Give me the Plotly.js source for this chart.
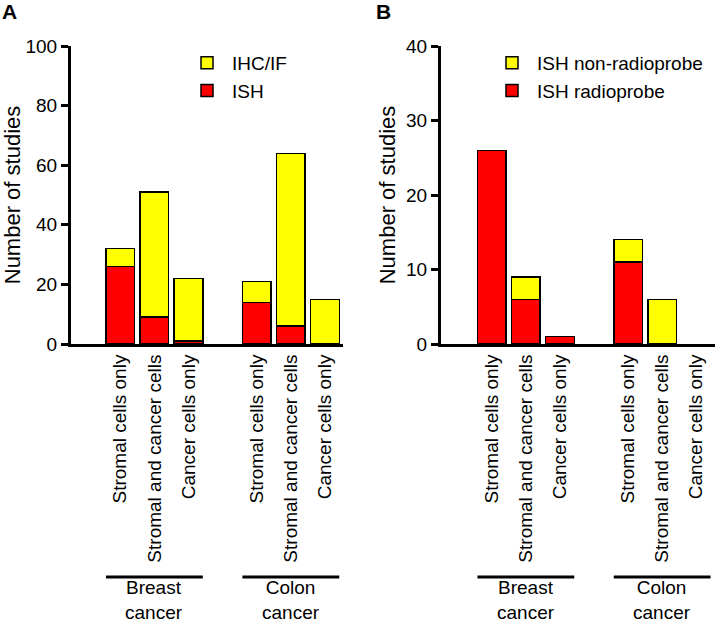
<!DOCTYPE html>
<html>
<head>
<meta charset="utf-8">
<script src="https://cdn.plot.ly/plotly-3.0.1.min.js"></script>
<style>html,body{margin:0;padding:0;background:#fff;}#chart{width:717px;height:622px;}</style>
</head>
<body>
<div id="chart"></div>
<script>
// Category labels
const categories = ["Stromal cells only", "Stromal and cancer cells", "Cancer cells only"];
const groups = ["Breast<br>cancer", "Colon<br>cancer"];
// x positions of the six bars (two groups of three, one empty slot between)
const xpos = [0, 1, 2, 4, 5, 6];
const tickLabels = categories.concat(categories);

// Panel A: number of studies by method
const ishA = [26, 9, 1, 14, 6, 0];
const ihcA = [6, 42, 21, 7, 58, 15];

// Panel B: ISH studies by probe type
const radioB = [26, 6, 1, 11, 0, 0];
const nonRadioB = [0, 3, 0, 3, 6, 0];

const RED = "#ff0000", YELLOW = "#ffff00";
const FONT = "Liberation Sans, Arial, Helvetica, sans-serif";

function bar(x, y, name, color, xa, ya, legend) {
  return {
    type: "bar", x: x,
    // empty (zero) segments are not drawn, so no outline shows on the axis
    y: y.map(function (v) { return v === 0 ? null : v; }),
    name: name, xaxis: xa, yaxis: ya, legend: legend,
    width: 0.84,
    marker: {color: color, line: {color: "#000", width: 1.5}},
    hoverinfo: "x+y+name"
  };
}

const data = [
  bar(xpos, ishA, "ISH", RED, "x", "y", "legend"),
  bar(xpos, ihcA, "IHC/IF", YELLOW, "x", "y", "legend"),
  bar(xpos, radioB, "ISH radioprobe", RED, "x2", "y2", "legend2"),
  bar(xpos, nonRadioB, "ISH non-radioprobe", YELLOW, "x2", "y2", "legend2")
];

const yTop = 1 - 46 / 622, yBot = 1 - 344 / 622;

function xaxis(domain, range, anchor) {
  return {
    domain: domain, range: range, anchor: anchor,
    tickvals: xpos, ticktext: tickLabels, tickangle: -90,
    ticks: "", showline: true, linewidth: 3, linecolor: "#000",
    showgrid: false, zeroline: false, fixedrange: true,
    tickfont: {family: FONT, size: 19, color: "#000"}
  };
}
function yaxis(range, dtick, anchor, standoff) {
  return {
    domain: [yBot, yTop], range: range, anchor: anchor,
    tick0: 0, dtick: dtick, ticks: "outside", ticklen: 7, tickwidth: 3, tickcolor: "#000",
    showline: true, linewidth: 3, linecolor: "#000",
    showgrid: false, zeroline: false, fixedrange: true,
    tickfont: {family: FONT, size: 19, color: "#000"},
    title: {text: "Number of studies", font: {family: FONT, size: 22, color: "#000"}, standoff: standoff}
  };
}

const shapes = [];
const annotations = [
  {text: "<b>A</b>", xref: "paper", yref: "paper", x: 9 / 717, y: 1 - 11 / 622, xanchor: "center", yanchor: "middle", showarrow: false, font: {family: FONT, size: 21, color: "#000"}},
  {text: "<b>B</b>", xref: "paper", yref: "paper", x: 383 / 717, y: 1 - 11 / 622, xanchor: "center", yanchor: "middle", showarrow: false, font: {family: FONT, size: 21, color: "#000"}}
];
["x", "x2"].forEach(function (ax) {
  [[0, 2], [3, 5]].forEach(function (g, gi) {
    const a = xpos[g[0]], b = xpos[g[1]];
    shapes.push({type: "line", xref: ax, yref: "paper", x0: a - 0.42, x1: b + 0.42,
      y0: 1 - 577 / 622, y1: 1 - 577 / 622, line: {color: "#000", width: 3}});
    annotations.push({text: groups[gi], xref: ax, yref: "paper", x: (a + b) / 2,
      y: 1 - 600 / 622, xanchor: "center", yanchor: "middle", showarrow: false,
      font: {family: FONT, size: 19, color: "#000"}});
  });
});

const layout = {
  width: 717, height: 622,
  margin: {l: 0, r: 0, t: 0, b: 0},
  paper_bgcolor: "#fff", plot_bgcolor: "rgba(0,0,0,0)",
  barmode: "stack",
  bargap: 0,
  font: {family: FONT, color: "#000"},
  xaxis: xaxis([71 / 717, 343 / 717], [-1.445, 6.53], "y"),
  yaxis: yaxis([0, 100], 20, "x", 15),
  xaxis2: xaxis([441 / 717, 715 / 717], [-1.49, 6.55], "y2"),
  yaxis2: yaxis([0, 40], 10, "x2", 5),
  legend: {x: 182 / 717, y: 1 - 44 / 622, xanchor: "left", yanchor: "top", traceorder: "reversed",
    bgcolor: "rgba(0,0,0,0)", font: {family: FONT, size: 19, color: "#000"}, itemwidth: 40, tracegroupgap: 0},
  legend2: {x: 487 / 717, y: 1 - 44 / 622, xanchor: "left", yanchor: "top", traceorder: "reversed",
    bgcolor: "rgba(0,0,0,0)", font: {family: FONT, size: 19, color: "#000"}, itemwidth: 40, tracegroupgap: 0},
  shapes: shapes,
  annotations: annotations,
  showlegend: true
};

Plotly.newPlot("chart", data, layout, {displayModeBar: false, staticPlot: true});
</script>
</body>
</html>
